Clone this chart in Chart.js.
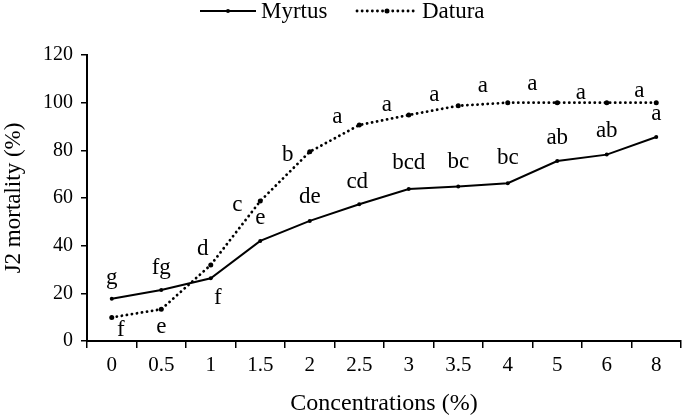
<!DOCTYPE html>
<html>
<head>
<meta charset="utf-8">
<script src="https://cdn.jsdelivr.net/npm/chart.js@4.4.0/dist/chart.umd.min.js"></script>
<style>
  html, body { margin: 0; padding: 0; background: #fff; }
  #wrap { width: 685px; height: 418px; position: relative; }
</style>
</head>
<body>
<div id="wrap"><canvas id="chart" width="685" height="418"></canvas></div>
<script>
const concentrations = ['0', '0.5', '1', '1.5', '2', '2.5', '3', '3.5', '4', '5', '6', '8'];
const myrtus = [17.7, 21.4, 26.3, 42, 50.4, 57.4, 63.8, 64.8, 66.2, 75.5, 78.2, 85.6];
const datura = [9.9, 13.3, 31.9, 58.7, 79.4, 90.6, 94.8, 98.7, 100, 100, 100, 100];
const myrtusLetters = ['g', 'fg', 'f', 'e', 'de', 'cd', 'bcd', 'bc', 'bc', 'ab', 'ab', 'a'];
const daturaLetters = ['f', 'e', 'd', 'c', 'b', 'a', 'a', 'a', 'a', 'a', 'a', 'a'];
const yTicks = [0, 20, 40, 60, 80, 100, 120];

// where each letter sits relative to its point (px)
const letterOffsets = [
    [[0, -21], [0, -22], [7, 20], [0, -23], [0, -24], [-2, -22], [0, -26], [0, -25], [0, -25], [0, -23], [0, -24], [0, -23]],
    [[9, 13], [0, 18], [-8, -16], [-23, 4], [-22, 3], [-22, -8], [-22, -10], [-24, -11], [-25, -17], [-25, -19], [-26, -10], [-17, -12]]
];

const FONT = '"Liberation Serif", "Times New Roman", serif';

const lettersPlugin = {
    id: 'letters',
    afterDatasetsDraw(chart) {
        const ctx = chart.ctx;
        const sets = [myrtusLetters, daturaLetters];
        ctx.save();
        ctx.font = `23px ${FONT}`;
        ctx.fillStyle = '#000';
        ctx.textAlign = 'center';
        ctx.textBaseline = 'middle';
        chart.data.datasets.forEach((ds, i) => {
            const meta = chart.getDatasetMeta(i);
            meta.data.forEach((pt, j) => {
                const off = letterOffsets[i][j];
                ctx.fillText(sets[i][j], pt.x + off[0], pt.y + off[1]);
            });
        });
        ctx.restore();
    }
};

const legendPlugin = {
    id: 'lineLegend',
    afterDraw(chart) {
        const ctx = chart.ctx;
        const items = [{ x0: 200, x1: 256, tx: 261 }, { x0: 357, x1: 417, tx: 422 }];
        const y = 11;
        ctx.save();
        ctx.font = `23px ${FONT}`;
        ctx.textBaseline = 'middle';
        chart.data.datasets.forEach((ds, i) => {
            const it = items[i];
            ctx.strokeStyle = ds.borderColor;
            ctx.lineWidth = ds.borderWidth;
            ctx.lineCap = ds.borderCapStyle || 'butt';
            ctx.setLineDash(ds.borderDash || []);
            ctx.beginPath();
            ctx.moveTo(it.x0, y);
            ctx.lineTo(it.x1, y);
            ctx.stroke();
            ctx.setLineDash([]);
            ctx.fillStyle = '#000';
            ctx.beginPath();
            ctx.arc((it.x0 + it.x1) / 2, y, ds.pointRadius, 0, 2 * Math.PI);
            ctx.fill();
            ctx.fillText(ds.label, it.tx, y + 1);
        });
        ctx.restore();
    }
};

new Chart(document.getElementById('chart'), {
    type: 'line',
    data: {
        labels: concentrations,
        datasets: [{
            label: 'Myrtus',
            data: myrtus,
            borderColor: '#000',
            backgroundColor: '#000',
            borderWidth: 2,
            pointRadius: 2,
            pointBackgroundColor: '#000',
            pointBorderWidth: 0,
            tension: 0
        }, {
            label: 'Datura',
            data: datura,
            borderColor: '#000',
            backgroundColor: '#000',
            borderWidth: 2.8,
            borderDash: [0.1, 5],
            borderCapStyle: 'round',
            pointRadius: 2.5,
            pointBackgroundColor: '#000',
            pointBorderWidth: 0,
            tension: 0
        }]
    },
    options: {
        responsive: false,
        animation: false,
        layout: { padding: { top: 55, right: 2, left: 0, bottom: 0 } },
        plugins: {
            legend: { display: false },
            tooltip: { enabled: false }
        },
        scales: {
            x: {
                offset: true,
                grid: {
                    offset: true,
                    drawOnChartArea: false,
                    drawTicks: true,
                    tickLength: 7,
                    color: '#000',
                    lineWidth: 1.5
                },
                border: { color: '#000', width: 2 },
                ticks: {
                    color: '#000',
                    font: { family: FONT, size: 21 },
                    padding: 5,
                    maxRotation: 0
                },
                title: {
                    display: true,
                    text: 'Concentrations (%)',
                    color: '#000',
                    font: { family: FONT, size: 24 },
                    padding: { top: 2, bottom: 0 }
                },
                afterFit(scale) { scale.height = 77; }
            },
            y: {
                min: 0,
                max: 120,
                afterBuildTicks(scale) { scale.ticks = yTicks.map(v => ({ value: v })); },
                grid: {
                    drawOnChartArea: false,
                    drawTicks: true,
                    tickLength: 6,
                    color: '#000',
                    lineWidth: 1.5
                },
                border: { color: '#000', width: 2 },
                ticks: {
                    color: '#000',
                    font: { family: FONT, size: 20 },
                    padding: 8
                },
                title: {
                    display: true,
                    text: 'J2 mortality (%)',
                    color: '#000',
                    font: { family: FONT, size: 23 },
                    padding: { top: 0, bottom: 4 }
                },
                afterFit(scale) { scale.width = 87; }
            }
        }
    },
    plugins: [lettersPlugin, legendPlugin]
});
</script>
</body>
</html>
